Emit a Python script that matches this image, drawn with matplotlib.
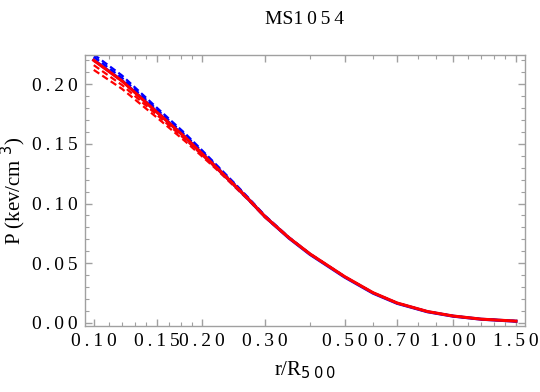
import matplotlib
matplotlib.use("Agg")
import matplotlib.pyplot as plt
from matplotlib.ticker import FixedLocator, NullFormatter

# radius in units of R500
r = [0.10, 0.12, 0.15, 0.18, 0.20, 0.22, 0.25, 0.27, 0.30, 0.35, 0.40, 0.50, 0.60, 0.70, 0.85, 1.00, 1.20, 1.50]

# pressure profiles (keV/cm^3)
p_red = [0.2200, 0.2026, 0.1765, 0.1553, 0.1420, 0.1300, 0.1136, 0.1035, 0.0890, 0.0712, 0.0578, 0.0387,
         0.0252, 0.0166, 0.00947, 0.00573, 0.00307, 0.0014]
p_blue = [0.2203, 0.2029, 0.1768, 0.1555, 0.1422, 0.1301, 0.1136, 0.1034, 0.0889, 0.0709, 0.0574, 0.0383,
          0.0248, 0.0163, 0.00925, 0.00560, 0.00300, 0.0013]
p_blue_hi = [0.2250, 0.2072, 0.1802, 0.1585, 0.1448, 0.1322, 0.1152, 0.1046, 0.0898, 0.0716, 0.0579, 0.0387,
             0.0251, 0.0165, 0.00940, 0.00570, 0.00305, 0.0014]
p_blue_lo = [0.2230, 0.2052, 0.1787, 0.1573, 0.1438, 0.1314, 0.1146, 0.1042, 0.0895, 0.0714, 0.0578, 0.0386,
             0.0251, 0.0165, 0.00940, 0.00570, 0.00305, 0.0014]
p_red_hi = [0.2160, 0.1992, 0.1742, 0.1536, 0.1408, 0.1292, 0.1130, 0.1031, 0.0887, 0.0710, 0.0577, 0.0386,
            0.0251, 0.0165, 0.00940, 0.00570, 0.00305, 0.0014]
p_red_lo = [0.2120, 0.1960, 0.1720, 0.1520, 0.1397, 0.1285, 0.1124, 0.1027, 0.0884, 0.0709, 0.0576, 0.0386,
            0.0251, 0.0165, 0.00940, 0.00570, 0.00305, 0.0014]

x_major = [0.10, 0.15, 0.20, 0.30, 0.50, 0.70, 1.00, 1.50]
x_minor = [0.11, 0.12, 0.13, 0.14, 0.1625, 0.175, 0.1875, 0.4, 0.6, 0.8, 0.9, 1.1, 1.2, 1.3, 1.4]
y_major = [0.00, 0.05, 0.10, 0.15, 0.20]
y_minor = [i / 100 for i in range(0, 23)]

TS = "\u2009"


def spaced(s):
    return TS.join(s)


plt.rcParams['font.family'] = ['Liberation Serif', 'DejaVu Serif']
frame = '#a0a0a0'

fig = plt.figure(figsize=(5.4, 3.92), dpi=100)
ax = fig.add_axes([0.157, 0.168, 0.815, 0.692])

dash = (3, 1.6)
ax.plot(r, p_blue_hi, color='blue', lw=1.6, dashes=dash)
ax.plot(r, p_blue_lo, color='blue', lw=1.6, dashes=dash)
ax.plot(r, p_red_hi, color='red', lw=1.6, dashes=dash)
ax.plot(r, p_red_lo, color='red', lw=1.6, dashes=dash)
ax.plot(r, p_blue, color='blue', lw=2.2)
ax.plot(r, p_red, color='red', lw=2.2)

ax.set_xscale('log')
ax.set_xlim(0.0944, 1.588)
ax.set_ylim(-0.0028, 0.2246)

ax.xaxis.set_major_locator(FixedLocator(x_major))
ax.xaxis.set_minor_locator(FixedLocator(x_minor))
ax.xaxis.set_minor_formatter(NullFormatter())
ax.set_xticklabels([spaced(f"{v:.2f}") for v in x_major])
ax.yaxis.set_major_locator(FixedLocator(y_major))
ax.yaxis.set_minor_locator(FixedLocator(y_minor))
ax.set_yticklabels([spaced(f"{v:.2f}") for v in y_major])

for s in ax.spines.values():
    s.set_color(frame)
    s.set_linewidth(1.0)
ax.tick_params(which='both', direction='in', top=True, right=True, color=frame,
               labelsize=14, labelcolor='black')
ax.tick_params(which='major', length=5, width=1.0, pad=5)
ax.tick_params(which='minor', length=3, width=0.8)

ax.set_title("MS" + spaced("1054"), fontsize=14, pad=22)
ax.set_xlabel("r/R$_{" + spaced("500") + "}$", fontsize=15, labelpad=7)
ax.set_ylabel("P (kev/cm$^{\\ 3}$)", fontsize=15, labelpad=3)

fig.savefig("out.png", dpi=100)
